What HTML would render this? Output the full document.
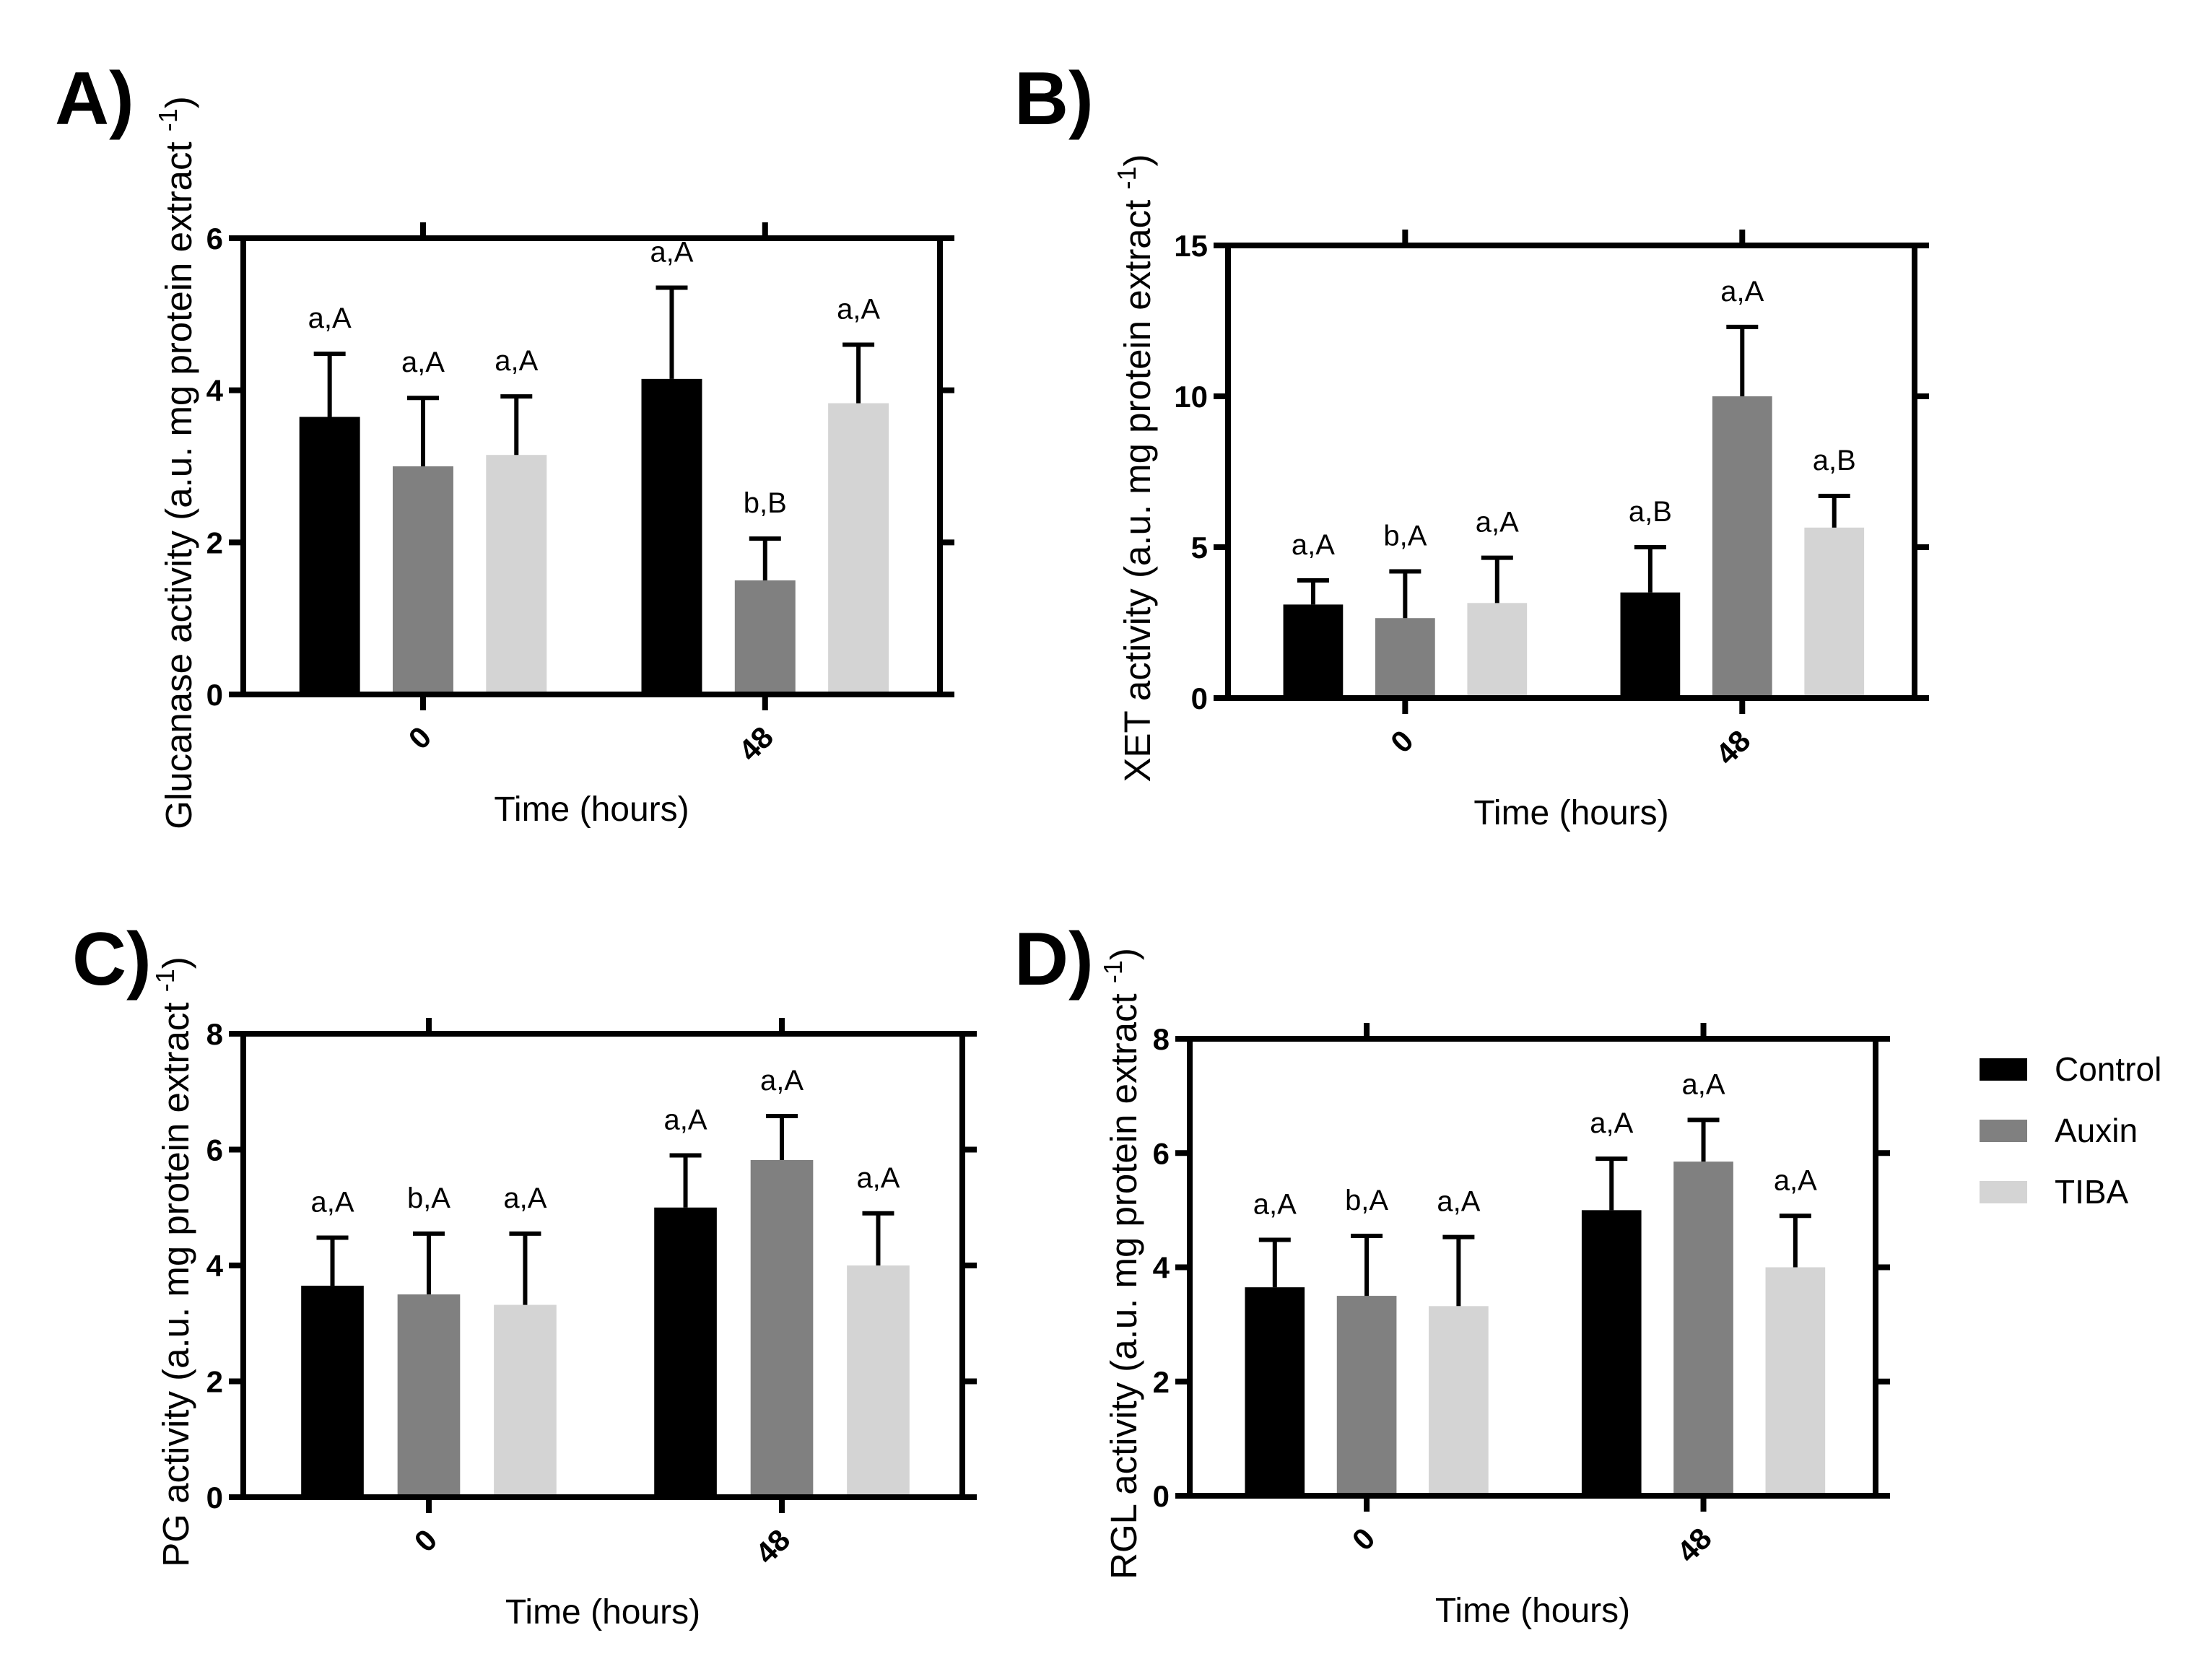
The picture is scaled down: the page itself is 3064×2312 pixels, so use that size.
<!DOCTYPE html>
<html><head><meta charset="utf-8"><style>
body{margin:0;background:#fff}
svg{display:block;font-family:"Liberation Sans",Arial,sans-serif}
</style></head><body>
<svg id="fig" width="3064" height="2312" viewBox="0 0 3064 2312"></svg>
<script>
const categories = ["0", "48"];
const seriesNames = ["Control", "Auxin", "TIBA"];
const seriesColors = ["#000000", "#808080", "#d4d4d4"];
// panel A: Glucanase
const gluMeans = [[3.65, 3.0, 3.15], [4.15, 1.5, 3.83]];
const gluErr = [[4.48, 3.9, 3.92], [5.35, 2.05, 4.6]];
const gluLabels = [["a,A", "a,A", "a,A"], ["a,A", "b,B", "a,A"]];
const gluTicks = [0, 2, 4, 6];
// panel B: XET
const xetMeans = [[3.1, 2.65, 3.15], [3.5, 10.0, 5.65]];
const xetErr = [[3.9, 4.2, 4.65], [5.0, 12.3, 6.7]];
const xetLabels = [["a,A", "b,A", "a,A"], ["a,B", "a,A", "a,B"]];
const xetTicks = [0, 5, 10, 15];
// panel C: PG
const pgMeans = [[3.65, 3.5, 3.32], [5.0, 5.82, 4.0]];
const pgErr = [[4.48, 4.55, 4.55], [5.9, 6.58, 4.9]];
const pgLabels = [["a,A", "b,A", "a,A"], ["a,A", "a,A", "a,A"]];
const pgTicks = [0, 2, 4, 6, 8];
// panel D: RGL
const rglMeans = [[3.65, 3.5, 3.32], [5.0, 5.85, 4.0]];
const rglErr = [[4.48, 4.55, 4.53], [5.9, 6.58, 4.9]];
const rglLabels = [["a,A", "b,A", "a,A"], ["a,A", "a,A", "a,A"]];
const rglTicks = [0, 2, 4, 6, 8];

const NS = "http://www.w3.org/2000/svg";
const svg = document.getElementById("fig");
function mk(tag, attrs, parent, text) {
  const e = document.createElementNS(NS, tag);
  for (const k in attrs) e.setAttribute(k, attrs[k]);
  if (text !== undefined) e.textContent = text;
  (parent || svg).appendChild(e);
  return e;
}

function panel(p) {
  const g = mk("g", {});
  
  
  const W = p.r - p.l, H = p.b - p.t;
  const ymax = p.ticks[p.ticks.length - 1];
  const y = v => p.b - v / ymax * H;
  const cx = i => p.l + W * (i === 0 ? 0.258 : 0.749);
  const off = W * 0.134, bw = W * 0.087;
  const lw = 8;

  const letter = mk("text", {x: p.lx, y: p.ly, "font-size": 104, "font-weight": "bold"}, g, p.id + ")");
  
  

  categories.forEach((c, ci) => {
    seriesNames.forEach((s, si) => {
      const x = cx(ci) + (si - 1) * off;
      const v = p.means[ci][si], e = p.err[ci][si];
      const bar = mk("rect", {x: x - bw / 2, y: y(v), width: bw, height: y(0) - y(v), fill: seriesColors[si]}, g);
      
      
      const eb = mk("path", {d: `M${x} ${y(v)}V${y(e)}M${x - 22} ${y(e)}H${x + 22}`, stroke: "#000", "stroke-width": 6, fill: "none"}, g);
      
      
      const lab = mk("text", {x: x, y: y(e) - 36, "font-size": 40, "text-anchor": "middle"}, g, p.labels[ci][si]);
      
      
    });
  });

  const fr = mk("rect", {x: p.l, y: p.t, width: W, height: H, fill: "none", stroke: "#000", "stroke-width": lw}, g);
  
  

  p.ticks.forEach(t => {
    mk("line", {x1: p.l - 20, x2: p.l, y1: y(t), y2: y(t), stroke: "#000", "stroke-width": lw}, g);
    mk("line", {x1: p.r, x2: p.r + 20, y1: y(t), y2: y(t), stroke: "#000", "stroke-width": lw}, g);
    const tl = mk("text", {x: p.l - 28, y: y(t) + 15, "font-size": 42, "font-weight": "bold", "text-anchor": "end"}, g, String(t));
    
    
  });
  categories.forEach((c, ci) => {
    mk("line", {x1: cx(ci), x2: cx(ci), y1: p.b, y2: p.b + 22, stroke: "#000", "stroke-width": lw}, g);
    mk("line", {x1: cx(ci), x2: cx(ci), y1: p.t, y2: p.t - 22, stroke: "#000", "stroke-width": lw}, g);
    const xl = mk("text", {x: 0, y: 0, "font-size": 42, "font-weight": "bold", "text-anchor": "end",
      transform: `translate(${cx(ci) + 14},${p.b + 62}) rotate(-45)`}, g, c);
    
    
  });
  const xt = mk("text", {x: (p.l + p.r) / 2, y: p.b + 175, "font-size": 48, "text-anchor": "middle"}, g, "Time (hours)");
  
  
  const yt = mk("text", {x: 0, y: 0, "font-size": 51, "text-anchor": "middle",
    transform: `translate(${p.l - p.yoff},${(p.t + p.b) / 2 - 5}) rotate(-90)`}, g);
  
  
  mk("tspan", {}, yt, p.ytitle + " (a.u. mg protein extract ");
  mk("tspan", {dy: -20, "font-size": 36}, yt, "-1");
  mk("tspan", {dy: 20}, yt, ")");
}

panel({id: "A", l: 337, r: 1302, t: 330, b: 962, ticks: gluTicks, means: gluMeans, err: gluErr, labels: gluLabels, ytitle: "Glucanase activity", lx: 76, ly: 172, yoff: 72});
panel({id: "B", l: 1701, r: 2652, t: 340, b: 967, ticks: xetTicks, means: xetMeans, err: xetErr, labels: xetLabels, ytitle: "XET activity", lx: 1405, ly: 172, yoff: 108});
panel({id: "C", l: 337, r: 1333, t: 1432, b: 2074, ticks: pgTicks, means: pgMeans, err: pgErr, labels: pgLabels, ytitle: "PG activity", lx: 100, ly: 1364, yoff: 76});
panel({id: "D", l: 1648, r: 2598, t: 1439, b: 2072, ticks: rglTicks, means: rglMeans, err: rglErr, labels: rglLabels, ytitle: "RGL activity", lx: 1405, ly: 1364, yoff: 74});

const leg = mk("g", {});


seriesNames.forEach((s, i) => {
  const yy = 1466 + i * 85;
  const sw = mk("rect", {x: 2742, y: yy, width: 66, height: 31, fill: seriesColors[i]}, leg);
  
  
  const t = mk("text", {x: 2846, y: yy + 31, "font-size": 46}, leg, s);
  
  
});
</script>
</body></html>
